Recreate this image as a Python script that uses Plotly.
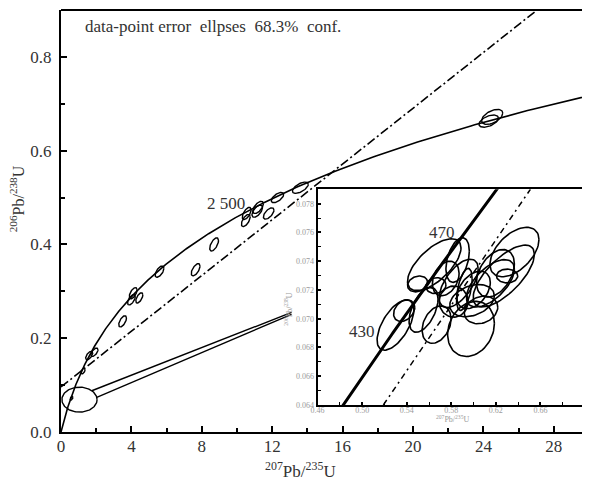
import numpy as np
import plotly.graph_objects as go

# U decay constants (per year) used for the concordia curve
L238 = 1.55125e-10
L235 = 9.8485e-10

# ---- main diagram: data-point error ellipses (centre, half-width, half-height, correlation)
main_x = [0.6, 1.25, 1.6, 1.9, 3.5, 4.0, 4.1, 4.45, 5.6, 7.65, 8.7, 10.55, 10.5, 11.2, 11.15, 11.8, 12.3, 13.6, 24.5, 24.3]
main_y = [0.072, 0.13, 0.163, 0.17, 0.236, 0.282, 0.296, 0.286, 0.342, 0.346, 0.400, 0.466, 0.451, 0.479, 0.471, 0.466, 0.500, 0.521, 0.672, 0.663]
main_hx = [0.08, 0.12, 0.2, 0.2, 0.22, 0.22, 0.22, 0.2, 0.25, 0.25, 0.25, 0.25, 0.25, 0.3, 0.3, 0.3, 0.35, 0.45, 0.6, 0.55]
main_hy = [0.004, 0.006, 0.009, 0.009, 0.012, 0.011, 0.012, 0.011, 0.012, 0.013, 0.014, 0.013, 0.013, 0.013, 0.013, 0.012, 0.011, 0.012, 0.016, 0.013]
main_rho = [0.5, 0.5, 0.6, 0.6, 0.6, 0.6, 0.6, 0.6, 0.6, 0.6, 0.6, 0.6, 0.6, 0.6, 0.6, 0.6, 0.6, 0.6, 0.5, 0.5]

# discordia (dash-dot) in main diagram
dis_x = [0.0, 27.05]
dis_y = [0.096, 0.90]

# magnifier ellipse and its connector lines
mag_x, mag_y, mag_hx, mag_hy = 1.05, 0.069, 1.0, 0.0266
conn_up_x, conn_up_y = [1.75, 13.1], [0.088, 0.255]
conn_lo_x, conn_lo_y = [2.03, 13.1], [0.074, 0.251]

# ---- inset: data-point error ellipses
ins_x = [0.5299, 0.5377, 0.5647, 0.5497, 0.5662, 0.5857, 0.5866, 0.5668, 0.5551, 0.5977,
         0.6367, 0.6271, 0.6301, 0.5986, 0.6067, 0.6151, 0.6196, 0.5917, 0.5821, 0.575, 0.600]
ins_y = [0.06956, 0.07056, 0.07376, 0.07242, 0.0723, 0.07408, 0.07246, 0.06959, 0.07061, 0.06929,
         0.07464, 0.07297, 0.07297, 0.07126, 0.07061, 0.07246, 0.07316, 0.07204, 0.07119, 0.0728, 0.0720]
ins_hx = [0.0165, 0.0095, 0.0240, 0.0090, 0.0090, 0.0105, 0.0175, 0.0130, 0.0130, 0.0210,
          0.0220, 0.0275, 0.0095, 0.0200, 0.0150, 0.0215, 0.0170, 0.0070, 0.0130, 0.0120, 0.0150]
ins_hy = [0.00175, 0.00075, 0.00180, 0.00055, 0.00055, 0.00155, 0.00168, 0.00130, 0.00155, 0.00192,
          0.00172, 0.00215, 0.00048, 0.00112, 0.00096, 0.00165, 0.00165, 0.00146, 0.00108, 0.00120, 0.00130]
ins_rho = [0.6, 0.3, 0.65, 0.2, 0.1, 0.4, 0.6, 0.3, 0.5, 0.2,
           0.5, 0.7, 0.0, 0.3, 0.2, 0.6, 0.4, 0.5, 0.0, 0.3, 0.4]

# inset dash-dot line
ins_dis_x = [0.519, 0.651]
ins_dis_y = [0.064, 0.079]

# age labels
main_age_lbl = ("2 500", 9.4, 0.487)
ins_age_lbls = [("470", 0.572, 0.0760), ("430", 0.500, 0.0691)]

SERIF = "Liberation Serif, Times New Roman, serif"
TXT = "#333333"

# the page adds an 8px body margin; lay the figure out 8px smaller so that
# everything lands where it sits in the 590x481 reference
PAGE_OFF = 8
W, H = 590 - PAGE_OFF, 481 - PAGE_OFF


def ellipse_path(cx, cy, hx, hy, rho, n=72):
    t = np.linspace(0, 2 * np.pi, n)
    ex = cx + hx * np.cos(t)
    ey = cy + hy * (rho * np.cos(t) + np.sqrt(1 - rho ** 2) * np.sin(t))
    return list(ex) + [None], list(ey) + [None]


def ellipses(xs, ys, hxs, hys, rhos):
    X, Y = [], []
    for a in zip(xs, ys, hxs, hys, rhos):
        ex, ey = ellipse_path(*a)
        X += ex
        Y += ey
    return X, Y


def concordia(t0, t1, n=400):
    t = np.linspace(t0, t1, n)
    return np.exp(L235 * t) - 1, np.exp(L238 * t) - 1


fig = go.Figure()

# main concordia
cx, cy = concordia(0, 3.6e9)
fig.add_trace(go.Scatter(x=cx, y=cy, mode="lines", line=dict(color="black", width=1.6),
                         xaxis="x", yaxis="y", hoverinfo="skip"))
# main discordia
fig.add_trace(go.Scatter(x=dis_x, y=dis_y, mode="lines",
                         line=dict(color="black", width=1.6, dash="9px,3px,2px,3px"),
                         xaxis="x", yaxis="y", hoverinfo="skip"))
# main ellipses
ex, ey = ellipses(main_x, main_y, main_hx, main_hy, main_rho)
fig.add_trace(go.Scatter(x=ex, y=ey, mode="lines", line=dict(color="black", width=1.4),
                         xaxis="x", yaxis="y", hoverinfo="skip"))
# magnifier
mx, my = ellipse_path(mag_x, mag_y, mag_hx, mag_hy, 0.0, 120)
fig.add_trace(go.Scatter(x=mx, y=my, mode="lines", line=dict(color="black", width=1.4),
                         xaxis="x", yaxis="y", hoverinfo="skip"))
for lx, ly in [(conn_up_x, conn_up_y), (conn_lo_x, conn_lo_y)]:
    fig.add_trace(go.Scatter(x=lx, y=ly, mode="lines", line=dict(color="black", width=1.4),
                             xaxis="x", yaxis="y", hoverinfo="skip"))

# inset concordia (thick)
icx, icy = concordia(3.8e8, 5.1e8, 200)
fig.add_trace(go.Scatter(x=icx, y=icy, mode="lines", line=dict(color="black", width=3),
                         xaxis="x2", yaxis="y2", hoverinfo="skip"))
fig.add_trace(go.Scatter(x=ins_dis_x, y=ins_dis_y, mode="lines",
                         line=dict(color="black", width=1.5, dash="6px,4px,2px,4px"),
                         xaxis="x2", yaxis="y2", hoverinfo="skip"))
iex, iey = ellipses(ins_x, ins_y, ins_hx, ins_hy, ins_rho)
fig.add_trace(go.Scatter(x=iex, y=iey, mode="lines", line=dict(color="black", width=1.6),
                         xaxis="x2", yaxis="y2", hoverinfo="skip"))

main_font = dict(family=SERIF, size=17, color=TXT)
ins_font = dict(family=SERIF, size=8, color="#9a9a9a")

fig.update_layout(
    width=W, height=H,
    margin=dict(l=61 - PAGE_OFF, r=1, t=10 - PAGE_OFF, b=49, autoexpand=False),
    paper_bgcolor="white", plot_bgcolor="white",
    showlegend=False,
    xaxis=dict(domain=[0, 1], range=[0, 30], tick0=0, dtick=4, tickformat="d",
               ticks="inside", ticklen=6, tickwidth=2, tickcolor="black",
               minor=dict(dtick=2, ticks="inside", ticklen=4, tickwidth=1.5, tickcolor="black"),
               showline=True, linewidth=2, linecolor="black", showgrid=False, zeroline=False,
               tickfont=main_font, anchor="y", automargin=False, ticklabelstandoff=-2),
    yaxis=dict(domain=[0, 1], range=[0, 0.9], tick0=0, dtick=0.2, tickformat=".1f",
               ticks="inside", ticklen=6, tickwidth=2, tickcolor="black",
               minor=dict(dtick=0.1, ticks="inside", ticklen=4, tickwidth=1.5, tickcolor="black"),
               showline=True, linewidth=2, linecolor="black", showgrid=False, zeroline=False,
               tickfont=main_font, anchor="x", ticklabelstandoff=4, automargin=False),
    xaxis2=dict(domain=[0.486, 0.9924], range=[0.46, 0.70], tick0=0.46, dtick=0.04, tickformat=".2f",
                ticks="inside", ticklen=3, tickwidth=1.5, tickcolor="black",
                minor=dict(dtick=0.02, ticks="inside", ticklen=3, tickwidth=1.2, tickcolor="black"),
                showline=True, mirror=True, linewidth=2, linecolor="black", showgrid=False,
                zeroline=False, tickfont=ins_font, anchor="y2", ticklabelstandoff=-4),
    yaxis2=dict(domain=[0.064, 0.5751], range=[0.064, 0.079], tick0=0.064, dtick=0.002, tickformat=".3f",
                ticks="inside", ticklen=3, tickwidth=1.5, tickcolor="black",
                minor=dict(dtick=0.001, ticks="inside", ticklen=3, tickwidth=1.2, tickcolor="black"),
                showline=True, mirror=True, linewidth=2, linecolor="black", showgrid=False,
                zeroline=False, tickfont=ins_font, anchor="x2"),
)

# top frame line of the main diagram
fig.add_shape(type="line", xref="paper", yref="paper", x0=0, x1=1, y0=1, y1=1,
              line=dict(color="black", width=2))

ann = []
ann.append(dict(text="data-point error&nbsp; ellpses&nbsp; 68.3%&nbsp; conf.", xref="paper", yref="paper",
                x=0.0417, y=0.962, xanchor="left", yanchor="middle", showarrow=False,
                font=dict(family=SERIF, size=17, color=TXT)))
ann.append(dict(text="<sup>207</sup>Pb/<sup>235</sup>U", xref="paper", yref="paper",
                x=0.4527, y=-0.090, xanchor="center", yanchor="middle", showarrow=False,
                font=dict(family=SERIF, size=17, color=TXT)))
ann.append(dict(text="<sup>206</sup>Pb/<sup>238</sup>U", xref="paper", yref="paper",
                x=-0.083, y=0.552, xanchor="center", yanchor="middle", showarrow=False,
                textangle=-90, font=dict(family=SERIF, size=16, color=TXT)))
ann.append(dict(text=main_age_lbl[0], xref="x", yref="y", x=main_age_lbl[1], y=main_age_lbl[2],
                showarrow=False, font=dict(family=SERIF, size=17, color=TXT)))
for t, x, y in ins_age_lbls:
    ann.append(dict(text=t, xref="x2", yref="y2", x=x, y=y, showarrow=False,
                    font=dict(family=SERIF, size=17, color=TXT)))
ann.append(dict(text="<sup>207</sup>Pb/<sup>235</sup>U", xref="paper", yref="paper",
                x=0.742, y=0.030, xanchor="center", yanchor="middle", showarrow=False,
                font=ins_font))
ann.append(dict(text="<sup>206</sup>Pb/<sup>238</sup>U", xref="paper", yref="paper",
                x=0.43, y=0.290, xanchor="center", yanchor="middle", showarrow=False,
                textangle=-90, font=ins_font))
fig.update_layout(annotations=ann)

fig.write_html("out.html")
